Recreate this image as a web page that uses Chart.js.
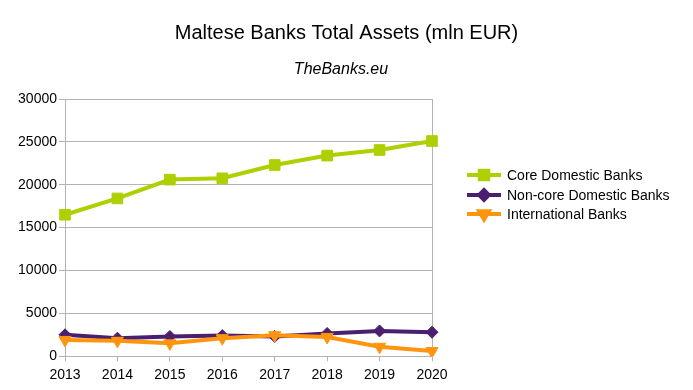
<!DOCTYPE html>
<html>
<head>
<meta charset="utf-8">
<script src="https://cdn.jsdelivr.net/npm/chart.js@4/dist/chart.umd.min.js"></script>
<style>
  html, body { margin: 0; padding: 0; background: #fff; }
  #wrap { width: 693px; height: 390px; }
</style>
</head>
<body>
<div id="wrap"><canvas id="chart"></canvas></div>
<script>
const years = ["2013", "2014", "2015", "2016", "2017", "2018", "2019", "2020"];
const coreDomestic = [16500, 18400, 20600, 20750, 22300, 23400, 24050, 25100];
const nonCoreDomestic = [2500, 2100, 2300, 2400, 2300, 2650, 2950, 2800];
const international = [1900, 1800, 1500, 2100, 2450, 2250, 1100, 600];
const yTicks = [0, 5000, 10000, 15000, 20000, 25000, 30000];

const GRID = "#b3b3b3";
const FONT = "'Liberation Sans', Arial, sans-serif";

// order: lower is drawn on top, so the orange line sits over the purple one
const series = [
  { label: "Core Domestic Banks", data: coreDomestic, color: "#aecf00", style: "rect", radius: 7.5, rotation: 0, order: 2 },
  { label: "Non-core Domestic Banks", data: nonCoreDomestic, color: "#4b1f6f", style: "rectRot", radius: 6, rotation: 0, order: 1 },
  { label: "International Banks", data: international, color: "#ff950e", style: "triangle", radius: 7, rotation: 180, order: 0 }
];

// titles across the whole canvas, legend on the right: line with marker in the middle
const sideLegend = {
  id: "sideLegend",
  afterDraw(chart) {
    const ctx = chart.ctx;
    ctx.save();
    ctx.fillStyle = "#000";
    ctx.textAlign = "center";
    ctx.textBaseline = "middle";
    ctx.font = "20px " + FONT;
    ctx.fillText("Maltese Banks Total Assets (mln EUR)", chart.width / 2, 33);
    ctx.font = "italic 16px " + FONT;
    ctx.fillText("TheBanks.eu", 341, 70);
    ctx.restore();

    const rows = [175, 195, 214];
    chart.data.datasets.forEach((ds, i) => {
      const y = rows[i];
      ctx.save();
      ctx.strokeStyle = ds.borderColor;
      ctx.lineWidth = 4;
      ctx.beginPath();
      ctx.moveTo(467, y);
      ctx.lineTo(501, y);
      ctx.stroke();
      Chart.helpers.drawPoint(ctx, {
        pointStyle: ds.pointStyle,
        radius: ds.pointRadius * 0.8,
        rotation: ds.pointRotation,
        borderWidth: 1
      }, 484, y);
      ctx.fillStyle = ds.borderColor;
      ctx.fill();
      ctx.fillStyle = "#000";
      ctx.font = "14px " + FONT;
      ctx.textBaseline = "middle";
      ctx.fillText(ds.label, 507, y + 1);
      ctx.restore();
    });
  }
};

new Chart("chart", {
  type: "line",
  data: {
    labels: years,
    datasets: series.map(s => ({
      label: s.label,
      data: s.data,
      order: s.order,
      borderColor: s.color,
      backgroundColor: s.color,
      borderWidth: 4,
      pointStyle: s.style,
      pointRadius: s.radius,
      pointRotation: s.rotation,
      pointBorderWidth: 1,
      tension: 0
    }))
  },
  options: {
    responsive: true,
    maintainAspectRatio: false,
    animation: false,
    layout: { padding: { left: 0, right: 261, top: 99, bottom: 0 } },
    plugins: {
      legend: { display: false },
      tooltip: { enabled: false }
    },
    scales: {
      x: {
        offset: false,
        grid: {
          color: c => (c.index === 0 || c.index === years.length - 1 ? GRID : "rgba(0,0,0,0)"),
          tickColor: GRID,
          tickLength: 5,
          lineWidth: 1
        },
        border: { color: GRID },
        ticks: { color: "#000", font: { family: FONT, size: 14 }, padding: 6, maxRotation: 0 }
      },
      y: {
        min: 0,
        max: 30000,
        afterBuildTicks: axis => { axis.ticks = yTicks.map(v => ({ value: v })); },
        afterFit: axis => { axis.width = 65; },
        grid: { color: GRID, tickColor: GRID, tickLength: 6 },
        border: { color: GRID },
        ticks: { color: "#000", font: { family: FONT, size: 14 }, padding: 2, callback: v => String(v) }
      }
    }
  },
  plugins: [sideLegend]
});
</script>
</body>
</html>
